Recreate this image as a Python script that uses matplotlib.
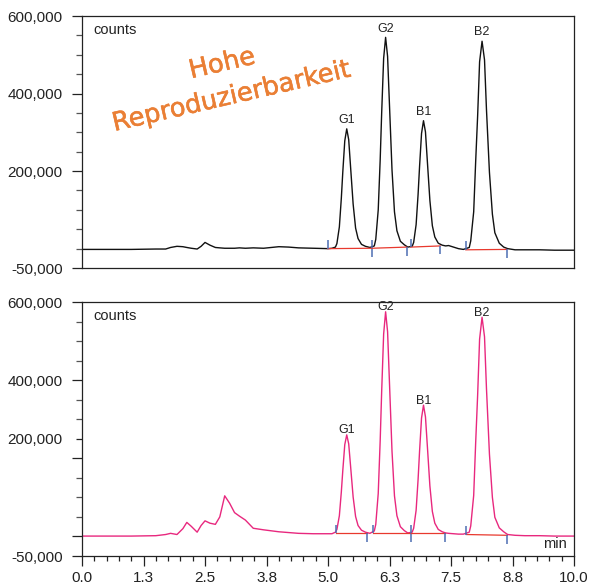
import numpy as np
import matplotlib
matplotlib.use("Agg")
import matplotlib.pyplot as plt
import matplotlib.patheffects as pe
from matplotlib.ticker import MultipleLocator

# retention time grid (min), shared by both runs
time_min = [
    0.0, 0.5, 1.0, 1.5, 1.7, 1.8, 1.93, 2.05, 2.13, 2.22, 2.34, 2.42, 2.5, 2.6,
    2.71, 2.8, 2.9, 3.0, 3.1, 3.2, 3.32, 3.48, 3.69, 4.0, 4.2, 4.4, 4.7, 5.0, 5.08,
    5.15, 5.18, 5.23, 5.27, 5.30, 5.34, 5.38, 5.42, 5.46, 5.51, 5.56, 5.61, 5.68, 5.76,
    5.85,
    5.94, 5.97, 6.02, 6.06, 6.09, 6.13, 6.17, 6.21, 6.25, 6.30, 6.35, 6.40, 6.47, 6.55, 6.62,
    6.71, 6.74, 6.79, 6.83, 6.86, 6.90, 6.94, 6.98, 7.02, 7.07, 7.12, 7.17, 7.24, 7.32, 7.39,
    7.45, 7.55, 7.65, 7.75,
    7.87, 7.90, 7.96, 8.00, 8.04, 8.08, 8.13, 8.18, 8.22, 8.28, 8.34, 8.39, 8.48, 8.57, 8.65,
    8.8, 9.0, 9.3, 9.6, 10.0,
]

# detector signal, thousands of counts
counts_top_k = [
    -2, -2, -2, -1, -1, 3, 6, 5, 3, 1, -1, 6, 16, 9,
    3, 2, 1, 1, 1, 2, 1, 2, 1, 5, 4, 2, 1, 0, 1,
    4, 13, 56, 130, 198, 278, 309, 281, 207, 115, 53, 26, 11, 6,
    3,
    7, 24, 100, 230, 350, 491, 545, 496, 366, 203, 95, 46, 19, 10, 4,
    6, 16, 62, 140, 212, 297, 330, 301, 222, 124, 59, 30, 14, 9, 7,
    8, 4, 0, -2,
    3, 20, 95, 224, 342, 482, 535, 487, 358, 197, 89, 41, 14, 4, 0,
    -3, -3, -3, -4, -4,
]
counts_bottom_k = [
    1, 1, 1, 2, 5, 8, 5, 20, 36, 26, 11, 28, 40, 34,
    31, 50, 104, 85, 61, 52, 42, 21, 17, 12, 10, 8, 7, 7, 7,
    11, 18, 53, 114, 169, 235, 260, 237, 177, 101, 51, 28, 16, 11,
    8,
    14, 31, 110, 246, 371, 518, 575, 524, 388, 218, 104, 53, 25, 15, 9,
    11, 21, 67, 146, 218, 303, 336, 306, 228, 129, 64, 34, 18, 12, 9,
    8, 7, 6, 6,
    11, 27, 105, 239, 361, 505, 561, 511, 378, 211, 100, 49, 22, 12, 5,
    3, 2, 2, 1, 1,
]

peak_names = ["G1", "G2", "B1", "B2"]
peak_rt = [5.38, 6.17, 6.94, 8.13]
peak_height_top_k = [309, 545, 330, 535]
peak_height_bottom_k = [260, 575, 336, 561]

# integration events (min) and baseline levels (k counts)
int_start_top = [4.99, 5.89, 6.68, 7.80]
int_end_top = [5.89, 6.60, 7.28, 8.63]
base_start_top_k = [0, 1, 4, -3]
base_end_top_k = [1, 4, 7, -2]

int_start_bottom = [5.16, 5.91, 6.68, 7.81]
int_end_bottom = [5.80, 6.68, 7.38, 8.64]
base_start_bottom_k = [8, 8, 8, 5]
base_end_bottom_k = [8, 8, 8, 3]

x_tick_labels = ["0.0", "1.3", "2.5", "3.8", "5.0", "6.3", "7.5", "8.8", "10.0"]

plt.rcParams["font.family"] = ["Liberation Sans", "DejaVu Sans"]
INK = "#222222"
PINK = "#e8287e"
RED = "#e8392e"
BLUE = "#4d6db3"
ORANGE = "#ea7f35"

fig = plt.figure(figsize=(5.9, 5.87), dpi=100)
ax_top = fig.add_axes([0.139, 0.5434, 0.834, 0.4293])
ax_bot = fig.add_axes([0.139, 0.0528, 0.834, 0.4327])

t = np.array(time_min)


def draw_run(ax, counts_k, color, heights_k, starts, ends, b0, b1, label_offset):
    ax.plot(t, np.array(counts_k) * 1000, color=color, lw=1.0)
    for s, e, y0, y1 in zip(starts, ends, b0, b1):
        ax.plot([s, e], [y0 * 1000, y1 * 1000], color=RED, lw=0.9)
        ax.vlines(s, y0 * 1000, y0 * 1000 + 22000, color=BLUE, lw=1.1)
        ax.vlines(e, y1 * 1000 - 22000, y1 * 1000, color=BLUE, lw=1.1)
    for name, rt, h in zip(peak_names, peak_rt, heights_k):
        ax.annotate(name, (rt, h * 1000), xytext=(0, label_offset),
                    textcoords="offset points", ha="center", va="bottom",
                    fontsize=9, color=INK)
    ax.set_xlim(0, 10)
    ax.set_ylim(-50000, 600000)
    ax.yaxis.set_minor_locator(MultipleLocator(50000))
    ax.tick_params(axis="y", which="major", length=7, width=0.9, color=INK,
                   labelsize=11, labelcolor=INK, pad=7)
    ax.tick_params(axis="y", which="minor", length=4, width=0.9, color="#555555")
    for sp in ax.spines.values():
        sp.set_color(INK)
        sp.set_linewidth(0.9)
    ax.text(0.024, 0.945, "counts", transform=ax.transAxes, fontsize=10.5,
            color=INK, va="center", ha="left")


draw_run(ax_top, counts_top_k, "#111111", peak_height_top_k,
         int_start_top, int_end_top, base_start_top_k, base_end_top_k, 2)
draw_run(ax_bot, counts_bottom_k, PINK, peak_height_bottom_k,
         int_start_bottom, int_end_bottom, base_start_bottom_k, base_end_bottom_k, -1)

# top run: no x axis ticks
ax_top.set_yticks([-50000, 200000, 400000, 600000])
ax_top.set_yticklabels(["-50,000", "200,000", "400,000", "600,000"])
ax_top.tick_params(axis="x", which="both", bottom=False, labelbottom=False)

# bottom run: pink major ticks, "200,000" label sits one minor step high
ax_bot.set_yticks([-50000, 0, 200000, 250000, 400000, 600000])
ax_bot.set_yticklabels(["-50,000", "", "", "200,000", "400,000", "600,000"])
for val, tk in zip(ax_bot.get_yticks(), ax_bot.yaxis.get_major_ticks()):
    if val == 250000:
        tk.tick1line.set_markersize(4)
        tk.tick1line.set_color("#555555")
    else:
        tk.tick1line.set_color(PINK)

ax_bot.set_xticks(np.linspace(0, 10, 9))
ax_bot.set_xticklabels(x_tick_labels)
ax_bot.xaxis.set_minor_locator(MultipleLocator(0.25))
ax_bot.tick_params(axis="x", which="major", length=7, width=0.9, color=INK,
                   labelsize=11, labelcolor=INK, pad=4)
ax_bot.tick_params(axis="x", which="minor", length=3.5, width=0.9, color=INK)
ax_bot.text(0.986, 0.018, "min", transform=ax_bot.transAxes, fontsize=10.5,
            color=INK, ha="right", va="bottom")

# handwritten-style annotation, slightly thickened strokes
thick = [pe.withStroke(linewidth=0.4, foreground=ORANGE)]
ax_top.text(0.285, 0.81, "Hohe", transform=ax_top.transAxes, fontsize=18.5,
            family="DejaVu Sans", color=ORANGE, rotation=13,
            ha="center", va="center", path_effects=thick)
ax_top.text(0.305, 0.68, "Reproduzierbarkeit", transform=ax_top.transAxes,
            fontsize=18.5, family="DejaVu Sans", color=ORANGE, rotation=13,
            ha="center", va="center", path_effects=thick)

fig.savefig("out.png", dpi=100)
